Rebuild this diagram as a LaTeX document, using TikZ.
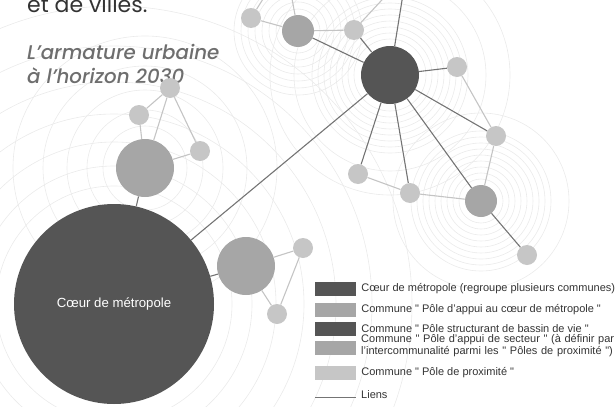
\documentclass[tikz,border=0pt]{standalone}
\usepackage{fontspec}
\setmainfont{Liberation Sans}
\newfontfamily\titlefont{Poppins}
\newfontfamily\titlemed{Poppins}[UprightFont=* Medium, ItalicFont=* Medium Italic]
\newfontfamily\legfont{Liberation Sans}
\newcommand\legsize{\legfont\fontsize{11}{12}\selectfont\lineskiplimit=-20pt\relax}
\usetikzlibrary{positioning}

\definecolor{darkpole}{HTML}{555555}
\definecolor{midpole}{HTML}{A6A6A6}
\definecolor{lightpole}{HTML}{C6C6C6}
\definecolor{linkdark}{HTML}{747474}
\definecolor{linklight}{HTML}{C4C4C4}
\definecolor{ring}{HTML}{EAEAEA}
\definecolor{titlegray}{HTML}{6E6E6E}
\definecolor{textdark}{HTML}{333333}

\begin{document}
\begin{tikzpicture}[x=1pt, y=-1pt,
    pole/.style={circle, inner sep=0pt},
    coeur/.style={pole, fill=darkpole, minimum size=200pt},
    struct/.style={pole, fill=darkpole, minimum size=58pt},
    appui/.style={pole, fill=midpole, minimum size=58pt},
    secteur/.style={pole, fill=midpole, minimum size=32pt},
    prox/.style={pole, fill=lightpole, minimum size=20pt},
    lien/.style={draw=linkdark, line width=1.1pt},
    lienfin/.style={draw=linklight, line width=1.1pt},
    rings/.style={draw=ring, line width=0.6pt},
    swatch/.style={minimum width=41pt, minimum height=14pt, inner sep=0pt},
    legtxt/.style={anchor=west, inner sep=0pt, align=left, text=textdark, font=\legsize}
  ]
  \useasboundingbox (0,0) rectangle (616,407);
  \clip (0,0) rectangle (616,407);

  % faint concentric rings behind the network
  \foreach \r in {118,138,162,190,222,258,298}
    \draw[rings] (114,304) circle[radius=\r pt];
  \foreach \r in {42,58,78,102,132}
    \draw[rings] (145,168) circle[radius=\r pt];
  \foreach \r in {36,42,...,78,96,120}
    \draw[rings] (390,75) circle[radius=\r pt];
  \foreach \r in {22,28,...,70,88}
    \draw[rings] (481,201) circle[radius=\r pt];
  \foreach \r in {22,29,...,64}
    \draw[rings] (298,31) circle[radius=\r pt];

  % titles
  \node[anchor=base west, inner sep=0pt, text=textdark,
        font=\titlefont\fontsize{22}{22}\selectfont] (villes) at (27,12) {et de villes.};
  \node[anchor=base west, inner sep=0pt, align=left, text=titlegray,
        font=\titlemed\itshape\fontsize{19.8}{24}\selectfont] (titre) at (27,83)
    {L’armature urbaine\\à l’horizon 2030};

  % poles
  \node[coeur, text=white, font=\legfont\fontsize{13.2}{14}\selectfont] (coeur) at (114,304) {Cœur de métropole};
  \node[appui] (a1) at (145,168) {};
  \node[appui] (a2) at (246,266) {};
  \node[struct] (d) at (390,75) {};
  \node[secteur] (m1) at (298,31) {};
  \node[secteur] (m2) at (481,201) {};
  \node[prox] (s1) at (170,88) {};
  \node[prox] (s2) at (139,115) {};
  \node[prox] (s3) at (200,151) {};
  \node[prox] (s4) at (303,248) {};
  \node[prox] (s5) at (277,314) {};
  \node[prox] (s6) at (251,18) {};
  \node[prox] (s7) at (354,30) {};
  \node[prox] (s8) at (457,67) {};
  \node[prox] (s9) at (496,136) {};
  \node[prox] (s10) at (358,174) {};
  \node[prox] (s11) at (410,193) {};
  \node[prox] (s12) at (527,255) {};

  % links leaving the frame
  \coordinate (h1) at (270,-12);
  \coordinate (h2) at (290,-12);
  \coordinate (h3) at (393,-12);
  \coordinate (h4) at (404,-12);

  % links
  \draw[lien] (d) -- (coeur);
  \draw[lien] (coeur) -- (a2);
  \draw[lien] (coeur) -- (a1);
  \draw[lien] (d) -- (m1);
  \draw[lien] (d) -- (s7);
  \draw[lien] (d) -- (h4);
  \draw[lien] (d) -- (s8);
  \draw[lien] (d) -- (s9);
  \draw[lien] (d) -- (s10);
  \draw[lien] (d) -- (s11);
  \draw[lien] (d) -- (m2);
  \draw[lien] (m2) -- (s12);
  \draw[lienfin] (s6) -- (m1);
  \draw[lienfin] (m1) -- (s7);
  \draw[lienfin] (s6) -- (h1);
  \draw[lienfin] (m1) -- (h2);
  \draw[lienfin] (s7) -- (h3);
  \draw[lienfin] (s1) -- (s2);
  \draw[lienfin] (s1) -- (a1);
  \draw[lienfin] (s1) -- (s3);
  \draw[lienfin] (s2) -- (a1);
  \draw[lienfin] (a1) -- (s3);
  \draw[lienfin] (a2) -- (s4);
  \draw[lienfin] (a2) -- (s5);
  \draw[lienfin] (s4) -- (s5);
  \draw[lienfin] (s10) -- (s11);
  \draw[lienfin] (s11) -- (m2);
  \draw[lienfin] (s9) -- (m2);
  \draw[lienfin] (s8) -- (s9);

  % legend
  \node[swatch, fill=darkpole] (k1) at (335.5,289) {};
  \node[swatch, fill=midpole] (k2) at (335.5,310) {};
  \node[swatch, fill=darkpole] (k3) at (335.5,329) {};
  \node[swatch, fill=midpole] (k4) at (335.5,348) {};
  \node[swatch, fill=lightpole] (k5) at (335.5,373) {};
  \coordinate (l0) at (315,397);
  \coordinate (l1) at (356,397);
  \draw[lien, line width=0.9pt] (l0) -- (l1);

  \node[legtxt, right=5pt of k1] (t1) {Cœur de métropole (regroupe plusieurs communes)};
  \node[legtxt, right=5pt of k2] (t2) {Commune " Pôle d’appui au cœur de métropole "};
  \node[legtxt, right=5pt of k3] (t3) {Commune " Pôle structurant de bassin de vie "};
  \node[legtxt, text width=255pt] (t4) at (361,345.5) {Commune " Pôle d’appui de secteur " (à définir par\\l’intercommunalité parmi les " Pôles de proximité ")};
  \node[legtxt, right=5pt of k5] (t5) {Commune " Pôle de proximité "};
  \node[legtxt] (t6) at (361,395) {Liens};
\end{tikzpicture}
\end{document}
